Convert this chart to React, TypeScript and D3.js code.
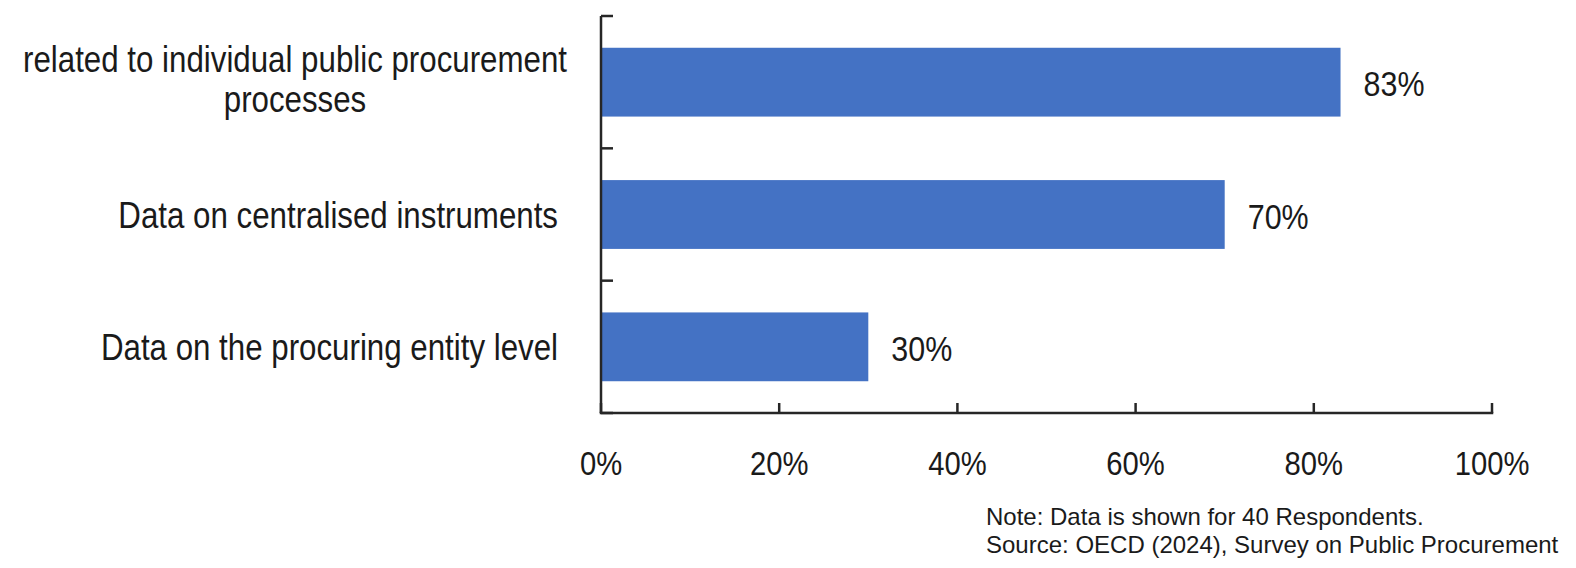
import React from "react";
import * as d3 from "d3";

const categories: string[][] = [
  ["related to individual public procurement", "processes"],
  ["Data on centralised instruments"],
  ["Data on the procuring entity level"],
];
const values: number[] = [0.83, 0.7, 0.3];
const valueLabels: string[] = ["83%", "70%", "30%"];
const xTicks: number[] = [0, 0.2, 0.4, 0.6, 0.8, 1.0];
const notes: string[] = [
  "Note: Data is shown for 40 Respondents.",
  "Source: OECD (2024), Survey on Public Procurement",
];

const W = 1576;
const H = 568;
const FONT = "'Liberation Sans', Arial, Helvetica, sans-serif";
const TEXT = "#1a1a1a";
const BAR = "#4472C4";
const AXIS = "#262626";

const LABEL_SIZE = 37;
const LABEL_SX = 0.845;
const TICK_SIZE = 34;
const TICK_SX = 0.86;
const VAL_SIZE = 35;
const VAL_SX = 0.87;

let ctx: CanvasRenderingContext2D | null = null;
function measure(t: string, size: number): number {
  if (!ctx) {
    const c = document.createElement("canvas");
    ctx = c.getContext("2d");
  }
  if (!ctx) return t.length * size * 0.5;
  ctx.font = `${size}px ${FONT}`;
  return ctx.measureText(t).width;
}

function SText(props: {
  x: number;
  y: number;
  sx: number;
  size: number;
  anchor: string;
  children: string;
}) {
  return (
    <text
      transform={`translate(${props.x},${props.y}) scale(${props.sx},1)`}
      textAnchor={props.anchor}
      fontFamily={FONT}
      fontSize={props.size}
      fill={TEXT}
    >
      {props.children}
    </text>
  );
}

export default function App() {
  const x = d3.scaleLinear().domain([0, 1]).range([601, 1492]);
  const idx = categories.map((_, i) => String(i));
  const y = d3
    .scaleBand<string>()
    .domain(idx)
    .range([16, 413])
    .paddingInner(0.48)
    .paddingOuter(0.24);
  const step = y.step();
  const bandEdges = d3.range(categories.length + 1).map((i) => 16 + i * step);
  const labelRight = 563;
  const lineH = 40;

  return (
    <svg
      width={W}
      height={H}
      style={{ position: "absolute", left: 0, top: 0, background: "#fff" }}
    >
      <rect x={0} y={0} width={W} height={H} fill="#fff" />
      {values.map((v, i) => (
        <rect
          key={"b" + i}
          x={x(0)}
          y={y(String(i))!}
          width={x(v) - x(0)}
          height={y.bandwidth()}
          fill={BAR}
        />
      ))}
      {values.map((v, i) => (
        <SText
          key={"v" + i}
          x={x(v) + 23}
          y={y(String(i))! + y.bandwidth() / 2 + 14}
          sx={VAL_SX}
          size={VAL_SIZE}
          anchor="start"
        >
          {valueLabels[i]}
        </SText>
      ))}
      <line x1={x(0)} x2={x(0)} y1={16} y2={413} stroke={AXIS} strokeWidth={2.5} />
      <line x1={x(0) - 1.25} x2={x(1) + 1.25} y1={413} y2={413} stroke={AXIS} strokeWidth={2.5} />
      {bandEdges.map((e, i) => (
        <line key={"yt" + i} x1={x(0)} x2={x(0) + 12} y1={e} y2={e} stroke={AXIS} strokeWidth={2.5} />
      ))}
      {xTicks.map((t, i) => (
        <line key={"xt" + i} x1={x(t)} x2={x(t)} y1={413} y2={403} stroke={AXIS} strokeWidth={2.5} />
      ))}
      {xTicks.map((t, i) => (
        <SText
          key={"xl" + i}
          x={x(t)}
          y={475}
          sx={TICK_SX}
          size={TICK_SIZE}
          anchor="middle"
        >
          {d3.format(".0%")(t)}
        </SText>
      ))}
      {categories.map((lines, i) => {
        const c = y(String(i))! + y.bandwidth() / 2;
        const widths = lines.map((l) => measure(l, LABEL_SIZE) * LABEL_SX);
        const wMax = Math.max(...widths);
        const cx = labelRight + 4 - wMax / 2;
        const first = c + 13 - ((lines.length - 1) * lineH) / 2 - (lines.length > 1 ? 3 : 0);
        return lines.map((l, j) => (
          <SText
            key={"c" + i + "_" + j}
            x={lines.length > 1 ? cx : labelRight - 5}
            y={first + j * lineH}
            sx={LABEL_SX}
            size={LABEL_SIZE}
            anchor={lines.length > 1 ? "middle" : "end"}
          >
            {l}
          </SText>
        ));
      })}
      {notes.map((n, i) => (
        <text
          key={"n" + i}
          x={986}
          y={525 + i * 28}
          fontFamily={FONT}
          fontSize={24}
          fill={TEXT}
        >
          {n}
        </text>
      ))}
    </svg>
  );
}
